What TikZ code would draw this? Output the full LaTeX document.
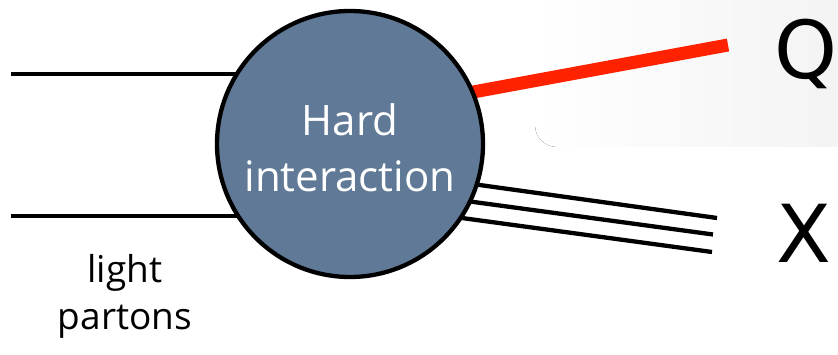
\documentclass[tikz,border=0pt]{standalone}
\usepackage{fontspec}
\setmainfont{Open Sans}
\newfontfamily\bigletters{DejaVu Sans}
\definecolor{hardfill}{RGB}{96,121,150}
\definecolor{qred}{RGB}{255,34,0}
\begin{document}
\begin{tikzpicture}[x=1pt,y=-1pt,
  parton/.style={line width=4.3pt},
  heavy/.style={line width=13pt,draw=qred},
  blobstyle/.style={circle,draw,line width=4.3pt,fill=hardfill,minimum size=266pt,inner sep=0pt},
  intext/.style={anchor=base,text=white,font=\fontsize{42}{50}\selectfont,inner sep=0pt},
  lbl/.style={anchor=base,font=\fontsize{37}{45}\selectfont,inner sep=0pt},
  big/.style={anchor=base west,font=\bigletters\fontsize{80}{90}\selectfont,inner sep=0pt}]
\useasboundingbox (0,0) rectangle (838,355);
% faint gradient panel behind Q
\fill[left color=white,right color=black!5,rounded corners=22pt] (535,-30) rectangle (870,147);
\coordinate (c) at (350,144);
\coordinate (l1) at (11,74);
\coordinate (l2) at (11,216);
\coordinate (q0) at (400,105.5);
\coordinate (q1) at (728,45);
\coordinate (x1a) at (420,176.7);
\coordinate (x1b) at (717,218);
\coordinate (x2a) at (420,194.7);
\coordinate (x2b) at (713,234.5);
\coordinate (x3a) at (420,212.3);
\coordinate (x3b) at (712,252);
\draw[parton] (l1) -- (l1 -| c);
\draw[parton] (l2) -- (l2 -| c);
\draw[heavy] (q0) -- (q1);
\draw[parton] (x1a) -- (x1b);
\draw[parton] (x2a) -- (x2b);
\draw[parton] (x3a) -- (x3b);
\node[blobstyle] (hard) at (c) {};
\node[intext] (hardA) at (350,136) {Hard};
\node[intext] (hardB) at (350,192) {interaction};
\node[lbl] (light) at (125,283) {light};
\node[lbl] (partons) at (125,330) {partons};
\node[big] (Q) at (774,79) {Q};
\node[big] (X) at (776,263) {X};
\end{tikzpicture}
\end{document}
